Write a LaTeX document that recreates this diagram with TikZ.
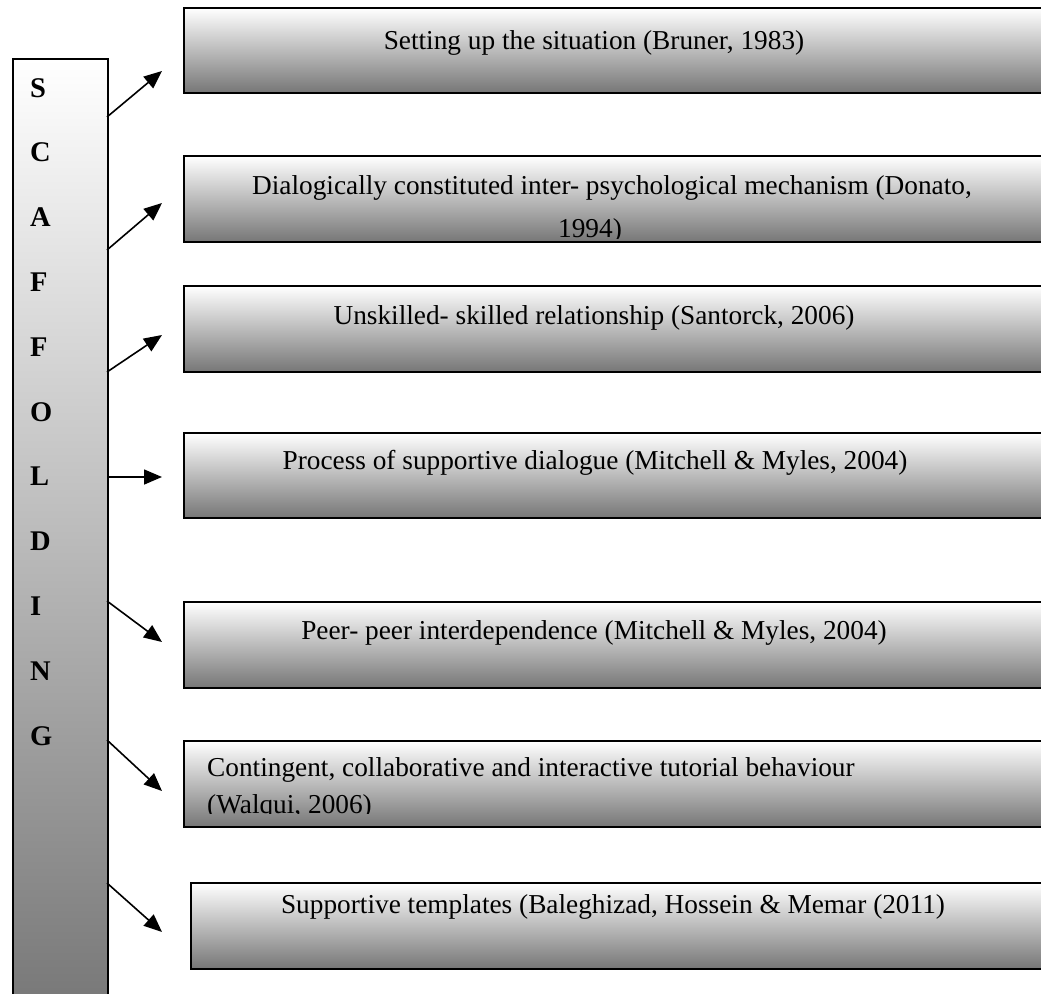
\documentclass[tikz,border=0pt]{standalone}
\usepackage{fontspec}
\setmainfont{Liberation Serif}
\usetikzlibrary{arrows.meta}
\definecolor{shadelow}{RGB}{118,118,118}
\begin{document}
\begin{tikzpicture}[x=1pt,y=-1pt,
  panel/.style={draw=black, line width=2.2pt, rectangle, inner sep=0pt,
    top color=white, bottom color=shadelow, anchor=north west},
  label/.style={font=\fontsize{27.3}{32}\selectfont, inner sep=0pt},
  letter/.style={font=\fontsize{28.5}{32}\selectfont\bfseries, inner sep=0pt, anchor=base west},
  link/.style={line width=1.6pt, -{Triangle[length=18pt,width=15pt]}}]
\useasboundingbox (0,0) rectangle (1041,993);
\clip (0,0) rectangle (1041,993);

% vertical title bar
\node[panel, line width=1.5pt, minimum width=95pt, minimum height=960pt] (bar) at (12,58) {};
\foreach \ch [count=\k from 0] in {S,C,A,F,F,O,L,D,I,N,G}
  \node[letter] (l\k) at (30,{97+64.8*\k}) {\ch};

% definition panels
\node[panel, minimum width=880pt, minimum height=85pt] (b1) at (183,7) {};
\node[panel, minimum width=880pt, minimum height=86pt] (b2) at (183,155) {};
\node[panel, minimum width=880pt, minimum height=86pt] (b3) at (183,285) {};
\node[panel, minimum width=880pt, minimum height=85pt] (b4) at (183,432) {};
\node[panel, minimum width=880pt, minimum height=86pt] (b5) at (183,601) {};
\node[panel, minimum width=880pt, minimum height=86pt] (b6) at (183,740) {};
\node[panel, minimum width=880pt, minimum height=86pt] (b7) at (190,882) {};

% panel texts
\node[label, anchor=base] (t1) at (594,49) {Setting up the situation (Bruner, 1983)};
\node[label, anchor=base] (t2a) at (612,194) {Dialogically constituted inter- psychological mechanism (Donato,};
\begin{scope}
  \clip (183,155) rectangle (1041,238);
  \node[label, anchor=base] (t2b) at (590,237) {1994)};
\end{scope}
\node[label, anchor=base] (t3) at (594,324) {Unskilled- skilled relationship (Santorck, 2006)};
\node[label, anchor=base] (t4) at (595,469) {Process of supportive dialogue (Mitchell \& Myles, 2004)};
\node[label, anchor=base] (t5) at (594,639) {Peer- peer interdependence (Mitchell \& Myles, 2004)};
\node[label, anchor=base west] (t6a) at (207,776) {Contingent, collaborative and interactive tutorial behaviour};
\begin{scope}
  \clip (183,740) rectangle (1041,813.5);
  \node[label, anchor=base west] (t6b) at (207,813) {(Walqui, 2006)};
\end{scope}
\node[label, anchor=base] (t7) at (613,913) {Supportive templates (Baleghizad, Hossein \& Memar (2011)};

% arrows from the bar
\coordinate (s1) at (107,117); \coordinate (e1) at (162,71);
\coordinate (s2) at (107,250); \coordinate (e2) at (162,203);
\coordinate (s3) at (107,372); \coordinate (e3) at (162,335);
\coordinate (s4) at (107,477); \coordinate (e4) at (162,477);
\coordinate (s5) at (107,601); \coordinate (e5) at (162,642);
\coordinate (s6) at (107,740); \coordinate (e6) at (162,791);
\coordinate (s7) at (107,883); \coordinate (e7) at (162,932);
\foreach \i in {1,...,7}
  \draw[link] (s\i) -- (e\i);
\end{tikzpicture}
\end{document}
